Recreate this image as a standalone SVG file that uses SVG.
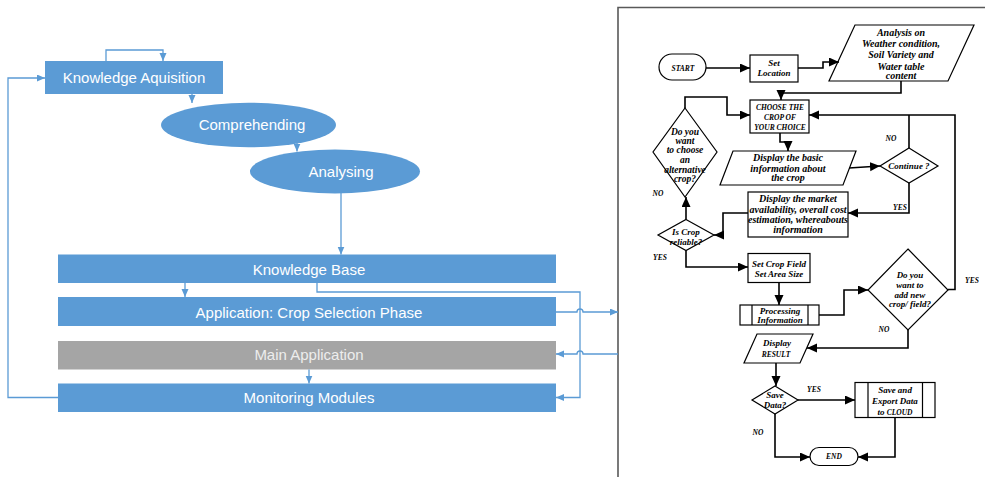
<svg xmlns="http://www.w3.org/2000/svg" width="985" height="477" viewBox="0 0 985 477">
<style>
.bx{fill:#5B9BD5;stroke:none}
.gy{fill:#A5A5A5;stroke:none}
.wt{font-family:"Liberation Sans",Arial,sans-serif;font-size:15px;fill:#fff;text-anchor:middle}
.bl{fill:none;stroke:#5B9BD5;stroke-width:1.3}
.k{fill:none;stroke:#000;stroke-width:1.6}
.s{fill:#fff;stroke:#000;stroke-width:1.2}
.ft{font-family:"Liberation Serif","Times New Roman",serif;font-weight:bold;font-style:italic;font-size:9px;fill:#000;text-anchor:middle}
.lg{font-size:10px}
.md{font-size:9.5px}
.cp{font-size:7.5px}
.lb{font-family:"Liberation Serif","Times New Roman",serif;font-weight:bold;font-style:italic;font-size:7.5px;fill:#000;text-anchor:middle}
</style>
<defs>
<marker id="ab" markerUnits="userSpaceOnUse" markerWidth="8" markerHeight="8" refX="8" refY="3.5" orient="auto"><path d="M0,0 L8,3.5 L0,7 z" fill="#5B9BD5"/></marker>
<marker id="ak" markerUnits="userSpaceOnUse" markerWidth="11" markerHeight="10" refX="10" refY="4.5" orient="auto"><path d="M0,0 L10,4.5 L0,9 z" fill="#000"/></marker>
</defs>
<rect width="985" height="477" fill="#fff"/>

<!-- left diagram nodes -->
<g id="knowledge-aquisition"><rect class="bx" x="45" y="61" width="178" height="33"/><text class="wt" x="134" y="83">Knowledge Aquisition</text></g>
<g id="comprehending"><ellipse class="bx" cx="248.5" cy="125" rx="87.5" ry="22.3"/><text class="wt" x="252" y="130">Comprehending</text></g>
<g id="analysing"><ellipse class="bx" cx="335" cy="171.5" rx="85" ry="22"/><text class="wt" x="341" y="177">Analysing</text></g>
<g id="knowledge-base"><rect class="bx" x="58" y="254.5" width="498" height="28.5"/><text class="wt" x="309" y="274.5">Knowledge Base</text></g>
<g id="crop-selection"><rect class="bx" x="58" y="297" width="498" height="29"/><text class="wt" x="309" y="317.5">Application: Crop Selection Phase</text></g>
<g id="main-application"><rect class="gy" x="58" y="341" width="498" height="28.5"/><text class="wt" x="309" y="360" style="fill:#EDEDED">Main Application</text></g>
<g id="monitoring-modules"><rect class="bx" x="58" y="383.5" width="498" height="28.5"/><text class="wt" x="309" y="403">Monitoring Modules</text></g>

<!-- flowchart frame -->
<path d="M618,480 V7.5 H990" fill="none" stroke="#595959" stroke-width="1.6"/>

<!-- flowchart nodes -->
<g id="start"><rect class="s" x="659" y="54" width="47" height="26" rx="13"/><text class="ft cp" x="683" y="70.5">START</text></g>
<g id="set-location"><rect class="s" x="750" y="55" width="48" height="27"/><text class="ft" x="774" y="65.5">Set</text><text class="ft" x="774" y="76">Location</text></g>
<g id="analysis"><polygon class="s" points="855,25 974,25 948,81 829,81"/>
<text class="ft lg" x="901" y="35.5">Analysis on</text><text class="ft lg" x="901" y="46.5">Weather condition,</text><text class="ft lg" x="901" y="58">Soil Variety and</text><text class="ft lg" x="901" y="69.5">Water table</text><text class="ft lg" x="901" y="79">content</text></g>
<g id="choose-crop"><rect class="s" x="750" y="100" width="59" height="33"/><text class="ft cp" x="780" y="109.5">CHOOSE THE</text><text class="ft cp" x="780" y="119.5">CROP OF</text><text class="ft cp" x="780" y="130">YOUR CHOICE</text></g>
<g id="display-basic"><polygon class="s" points="733,151 856,151 843,185 720,185"/><text class="ft lg" x="788" y="161">Display the basic</text><text class="ft lg" x="788" y="171.5">information about</text><text class="ft lg" x="788" y="181">the crop</text></g>
<g id="continue"><polygon class="s" points="909,148 938,166 909,183 880,166"/><text class="ft" x="909" y="168.5">Continue ?</text></g>
<g id="display-market"><rect class="s" x="748" y="192" width="100" height="45"/><text class="ft lg" x="798" y="202">Display the market</text><text class="ft lg" x="798" y="212.5">availability, overall cost</text><text class="ft lg" x="798" y="222.5">estimation, whereabouts</text><text class="ft lg" x="798" y="232.5">information</text></g>
<g id="alternative-crop"><polygon class="s" points="685,108 717,152 685,197 653,152"/><text class="ft md" x="685" y="134.5">Do you</text><text class="ft md" x="685" y="144">want</text><text class="ft md" x="685" y="153">to choose</text><text class="ft md" x="685" y="162.5">an</text><text class="ft md" x="685" y="172.5">alternative</text><text class="ft md" x="685" y="182">crop?</text></g>
<g id="crop-reliable"><polygon class="s" points="686,219.5 714,235 686,250.5 658,235"/><text class="ft" x="686" y="234.5">Is Crop</text><text class="ft" x="686" y="244.5">reliable?</text></g>
<g id="set-crop-field"><rect class="s" x="748" y="253.5" width="62" height="29"/><text class="ft" x="779" y="267">Set Crop Field</text><text class="ft" x="779" y="277">Set Area Size</text></g>
<g id="processing"><rect class="s" x="740" y="305" width="79" height="20"/><path class="s" d="M752,305 V325 M808,305 V325"/><text class="ft" x="780" y="313.5">Processing</text><text class="ft" x="780" y="323">Information</text></g>
<g id="add-new"><polygon class="s" points="908,249 948,290 908,330 868,290"/><text class="ft" x="910" y="278">Do you</text><text class="ft" x="910" y="287.5">want to</text><text class="ft" x="910" y="297.5">add new</text><text class="ft" x="910" y="307">crop/ field?</text></g>
<g id="display-result"><polygon class="s" points="757,334 813,334 800,363 744,363"/><text class="ft" x="777" y="346">Display</text><text class="ft cp" x="776" y="356.5">RESULT</text></g>
<g id="save-data"><polygon class="s" points="775,386 798,400 775,414 752,400"/><text class="ft" x="775" y="397.5">Save</text><text class="ft" x="775" y="408">Data?</text></g>
<g id="save-export"><rect class="s" x="855" y="382.5" width="80" height="35"/><path class="s" d="M868,382.5 V417.5 M922.5,382.5 V417.5"/><text class="ft" x="895" y="393">Save and</text><text class="ft" x="895" y="403.5">Export Data</text><text class="ft" x="895" y="414.5">to <tspan class="cp">CLOUD</tspan></text></g>
<g id="end"><rect class="s" x="810" y="447.5" width="48" height="18" rx="9"/><text class="ft cp" x="834" y="459">END</text></g>

<!-- connectors -->
<g id="connectors">
<path class="bl" d="M106,61 V50 H163 V61" marker-end="url(#ab)"/>
<path class="bl" d="M58,397.5 H8 V78 H45" marker-end="url(#ab)"/>
<path class="bl" d="M192,94 V103" marker-end="url(#ab)"/>
<path class="bl" d="M297,143 V151.5" marker-end="url(#ab)"/>
<path class="bl" d="M341,193 V254.5" marker-end="url(#ab)"/>
<path class="bl" d="M185,283 V297" marker-end="url(#ab)"/>
<path class="bl" d="M317,283 V292 H580 V397.5 H556" marker-end="url(#ab)"/>
<path class="bl" d="M556,312 H577 A3,3 0 0 1 583,312 H618" marker-end="url(#ab)"/>
<path class="bl" d="M618,354 H583 A3,3 0 0 0 577,354 H556" marker-end="url(#ab)"/>
<path class="bl" d="M309,369.5 V383.5" marker-end="url(#ab)"/>

<path class="k" d="M706,68 H750" marker-end="url(#ak)"/>
<path class="k" d="M798,68 H823 V62 H839" marker-end="url(#ak)"/>
<path class="k" d="M901,81 V93 H781 V100" marker-end="url(#ak)"/>
<path class="k" d="M685,108 V97 H727 V115 H750" marker-end="url(#ak)"/>
<path class="k" d="M948,289.5 H955 V115 H809" marker-end="url(#ak)"/>
<path class="k" d="M909,148 V115"/>
<path class="k" d="M780,133 V142 H788 V151" marker-end="url(#ak)"/>
<path class="k" d="M849,168 L880,166" marker-end="url(#ak)"/>
<path class="k" d="M909,183 V213 H848" marker-end="url(#ak)"/>
<path class="k" d="M748,213 H723 V235 H714" marker-end="url(#ak)"/>
<path class="k" d="M686,219.5 V197" marker-end="url(#ak)"/>
<path class="k" d="M686,250.5 V267 H748" marker-end="url(#ak)"/>
<path class="k" d="M779,282.5 V305" marker-end="url(#ak)"/>
<path class="k" d="M819,315 H844 V290 H868" marker-end="url(#ak)"/>
<path class="k" d="M908,330 V348 H807" marker-end="url(#ak)"/>
<path class="k" d="M776,363 V386" marker-end="url(#ak)"/>
<path class="k" d="M798,400 H855" marker-end="url(#ak)"/>
<path class="k" d="M775,414 V457 H810" marker-end="url(#ak)"/>
<path class="k" d="M895,417.5 V457 H858" marker-end="url(#ak)"/>
</g>

<g id="labels">
<text class="lb" x="658" y="196">NO</text>
<text class="lb" x="660" y="260">YES</text>
<text class="lb" x="891" y="140.5">NO</text>
<text class="lb" x="900" y="209.5">YES</text>
<text class="lb" x="972" y="283">YES</text>
<text class="lb" x="884" y="332">NO</text>
<text class="lb" x="814" y="392">YES</text>
<text class="lb" x="758" y="434.5">NO</text>
</g>
</svg>
